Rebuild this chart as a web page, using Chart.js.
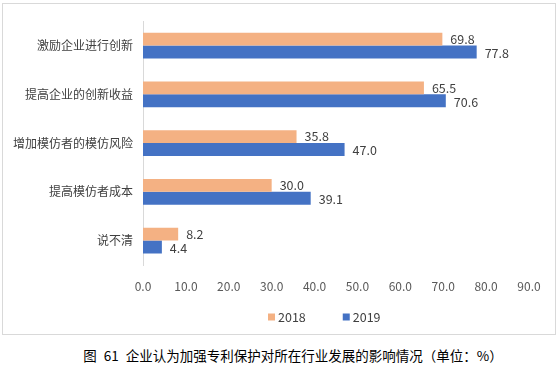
<!DOCTYPE html>
<html>
<head>
<meta charset="utf-8">
<script src="https://cdn.jsdelivr.net/npm/chart.js@4"></script>
<style>
  body { margin: 0; background: #fff; font-family: "Noto Sans CJK SC", sans-serif; }
  #box { position: absolute; left: 2px; top: 3px; width: 552px; height: 330px; border: 1px solid #d9d9d9; }
  #caption { position: absolute; left: 0; top: 345px; width: 586px; text-align: center; font-size: 13.5px; color: #000; white-space: pre; word-spacing: 4px; }
</style>
</head>
<body>
<div id="box"><canvas id="chart" width="552" height="330"></canvas></div>
<div id="caption">图 61 企业认为加强专利保护对所在行业发展的影响情况（单位：%）</div>
<script>
// categories and values
const categories = ["激励企业进行创新", "提高企业的创新收益", "增加模仿者的模仿风险", "提高模仿者成本", "说不清"];
const values2018 = [69.8, 65.5, 35.8, 30.0, 8.2];
const values2019 = [77.8, 70.6, 47.0, 39.1, 4.4];

const FONT = "'Noto Sans CJK SC', sans-serif";

// value labels just past the end of each bar
const barLabels = {
  id: "barLabels",
  afterDatasetsDraw(chart) {
    const c = chart.ctx;
    c.save();
    c.font = "12.5px " + FONT;
    c.fillStyle = "#404040";
    c.textBaseline = "middle";
    chart.data.datasets.forEach((ds, i) => {
      chart.getDatasetMeta(i).data.forEach((bar, j) => {
        c.fillText(ds.data[j].toFixed(1), bar.x + 8, bar.y + (i === 0 ? 0 : 1));
      });
    });
    c.restore();
  }
};

// legend drawn under the axis, items spread apart like the original
const wideLegend = {
  id: "wideLegend",
  afterDraw(chart) {
    const c = chart.ctx;
    const sets = chart.data.datasets;
    const box = 7, textGap = 3, itemGap = 37;
    c.save();
    c.font = "12.5px " + FONT;
    c.textBaseline = "middle";
    let x = chart.chartArea.left + 125;
    const y = 313;
    sets.forEach(ds => {
      c.fillStyle = ds.backgroundColor;
      c.fillRect(x, y - box / 2, box, box);
      c.fillStyle = "#404040";
      c.fillText(ds.label, x + box + textGap, y);
      x += box + textGap + c.measureText(ds.label).width + itemGap;
    });
    c.restore();
  }
};

const ctx = document.getElementById("chart").getContext("2d");
new Chart(ctx, {
  type: "bar",
  data: {
    labels: categories,
    datasets: [
      { label: "2018", data: values2018, backgroundColor: "#F4B183" },
      { label: "2019", data: values2019, backgroundColor: "#4472C4" }
    ]
  },
  options: {
    indexAxis: "y",
    responsive: false,
    animation: false,
    categoryPercentage: 0.53,
    barPercentage: 1,
    layout: { padding: { top: 14, right: 26, bottom: 33, left: 0 } },
    scales: {
      x: {
        min: 0,
        max: 90,
        grid: { display: false, drawTicks: false },
        border: { display: false },
        ticks: {
          stepSize: 10,
          padding: 14,
          color: "#595959",
          font: { family: FONT, size: 12 },
          callback: v => v.toFixed(1)
        },
        afterFit: s => { s.height = 36; }
      },
      y: {
        grid: { display: false, drawTicks: false },
        border: { display: true, color: "#d9d9d9" },
        ticks: {
          padding: 10,
          color: "#404040",
          font: { family: FONT, size: 12 }
        },
        afterFit: s => { s.width = 140; }
      }
    },
    plugins: {
      legend: { display: false },
      tooltip: { enabled: false }
    }
  },
  plugins: [barLabels, wideLegend]
});
</script>
</body>
</html>
